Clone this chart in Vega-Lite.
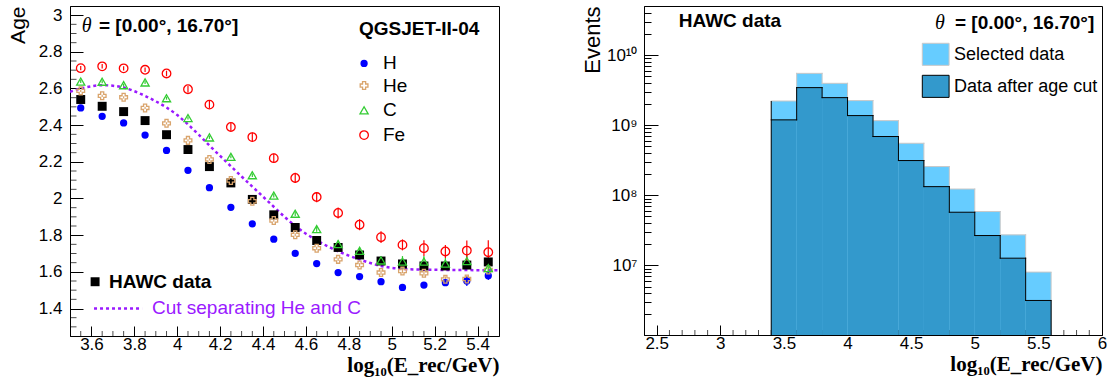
{
  "$schema": "https://vega.github.io/schema/vega-lite/v6.json",
  "background": "white",
  "padding": {"left": 6, "top": 3, "right": 5, "bottom": 5},
  "spacing": 80,
  "config": {
    "view": {"stroke": "black", "strokeWidth": 1},
    "axis": {"domainColor": "black", "domainWidth": 1, "tickColor": "black", "tickWidth": 1, "labelColor": "black", "labelFont": "Liberation Sans", "labelFontSize": 17, "titleColor": "black", "titleFont": "Liberation Sans", "titleFontWeight": "normal", "grid": false, "labelOverlap": false, "labelFlush": false, "labelBound": false},
    "text": {"font": "Liberation Sans", "color": "black"},
    "tick": {"thickness": 1, "color": "black"}
  },
  "datasets": {
    "age": [
      {"x":3.55,"s":"H","age":2.494,"err":0.005},{"x":3.65,"s":"H","age":2.448,"err":0.005},{"x":3.75,"s":"H","age":2.412,"err":0.005},{"x":3.85,"s":"H","age":2.346,"err":0.005},{"x":3.95,"s":"H","age":2.262,"err":0.005},{"x":4.05,"s":"H","age":2.154,"err":0.005},{"x":4.15,"s":"H","age":2.059,"err":0.005},{"x":4.25,"s":"H","age":1.952,"err":0.005},{"x":4.35,"s":"H","age":1.862,"err":0.005},{"x":4.45,"s":"H","age":1.778,"err":0.006},{"x":4.55,"s":"H","age":1.701,"err":0.006},{"x":4.65,"s":"H","age":1.645,"err":0.007},{"x":4.75,"s":"H","age":1.596,"err":0.008},{"x":4.85,"s":"H","age":1.574,"err":0.008},{"x":4.95,"s":"H","age":1.546,"err":0.01},{"x":5.05,"s":"H","age":1.515,"err":0.012},{"x":5.15,"s":"H","age":1.528,"err":0.015},{"x":5.25,"s":"H","age":1.541,"err":0.018},{"x":5.35,"s":"H","age":1.55,"err":0.027},{"x":5.45,"s":"H","age":1.579,"err":0.023},
      {"x":3.55,"s":"He","age":2.587,"err":0.006},{"x":3.65,"s":"He","age":2.56,"err":0.006},{"x":3.75,"s":"He","age":2.552,"err":0.006},{"x":3.85,"s":"He","age":2.494,"err":0.006},{"x":3.95,"s":"He","age":2.41,"err":0.006},{"x":4.05,"s":"He","age":2.317,"err":0.006},{"x":4.15,"s":"He","age":2.213,"err":0.006},{"x":4.25,"s":"He","age":2.098,"err":0.006},{"x":4.35,"s":"He","age":1.985,"err":0.007},{"x":4.45,"s":"He","age":1.88,"err":0.007},{"x":4.55,"s":"He","age":1.802,"err":0.008},{"x":4.65,"s":"He","age":1.729,"err":0.008},{"x":4.75,"s":"He","age":1.668,"err":0.009},{"x":4.85,"s":"He","age":1.637,"err":0.01},{"x":4.95,"s":"He","age":1.596,"err":0.012},{"x":5.05,"s":"He","age":1.604,"err":0.012},{"x":5.15,"s":"He","age":1.592,"err":0.014},{"x":5.25,"s":"He","age":1.559,"err":0.015},{"x":5.35,"s":"He","age":1.561,"err":0.02},{"x":5.45,"s":"He","age":1.61,"err":0.02},
      {"x":3.55,"s":"C","age":2.638,"err":0.008},{"x":3.65,"s":"C","age":2.637,"err":0.008},{"x":3.75,"s":"C","age":2.618,"err":0.008},{"x":3.85,"s":"C","age":2.633,"err":0.008},{"x":3.95,"s":"C","age":2.547,"err":0.008},{"x":4.05,"s":"C","age":2.439,"err":0.008},{"x":4.15,"s":"C","age":2.333,"err":0.008},{"x":4.25,"s":"C","age":2.227,"err":0.008},{"x":4.35,"s":"C","age":2.127,"err":0.01},{"x":4.45,"s":"C","age":2.016,"err":0.01},{"x":4.55,"s":"C","age":1.917,"err":0.012},{"x":4.65,"s":"C","age":1.833,"err":0.015},{"x":4.75,"s":"C","age":1.751,"err":0.02},{"x":4.85,"s":"C","age":1.714,"err":0.022},{"x":4.95,"s":"C","age":1.662,"err":0.025},{"x":5.05,"s":"C","age":1.656,"err":0.03},{"x":5.15,"s":"C","age":1.656,"err":0.03},{"x":5.25,"s":"C","age":1.645,"err":0.03},{"x":5.35,"s":"C","age":1.659,"err":0.04},{"x":5.45,"s":"C","age":1.62,"err":0.04},
      {"x":3.55,"s":"Fe","age":2.711,"err":0.012},{"x":3.65,"s":"Fe","age":2.721,"err":0.012},{"x":3.75,"s":"Fe","age":2.71,"err":0.012},{"x":3.85,"s":"Fe","age":2.702,"err":0.012},{"x":3.95,"s":"Fe","age":2.682,"err":0.015},{"x":4.05,"s":"Fe","age":2.596,"err":0.018},{"x":4.15,"s":"Fe","age":2.512,"err":0.02},{"x":4.25,"s":"Fe","age":2.39,"err":0.022},{"x":4.35,"s":"Fe","age":2.335,"err":0.025},{"x":4.45,"s":"Fe","age":2.22,"err":0.025},{"x":4.55,"s":"Fe","age":2.112,"err":0.028},{"x":4.65,"s":"Fe","age":2.008,"err":0.028},{"x":4.75,"s":"Fe","age":1.921,"err":0.03},{"x":4.85,"s":"Fe","age":1.857,"err":0.03},{"x":4.95,"s":"Fe","age":1.789,"err":0.032},{"x":5.05,"s":"Fe","age":1.747,"err":0.03},{"x":5.15,"s":"Fe","age":1.729,"err":0.043},{"x":5.25,"s":"Fe","age":1.711,"err":0.035},{"x":5.35,"s":"Fe","age":1.716,"err":0.055},{"x":5.45,"s":"Fe","age":1.707,"err":0.065},
      {"x":3.55,"s":"HAWC","age":2.54,"err":0},{"x":3.65,"s":"HAWC","age":2.503,"err":0},{"x":3.75,"s":"HAWC","age":2.474,"err":0},{"x":3.85,"s":"HAWC","age":2.425,"err":0},{"x":3.95,"s":"HAWC","age":2.348,"err":0},{"x":4.05,"s":"HAWC","age":2.267,"err":0},{"x":4.15,"s":"HAWC","age":2.174,"err":0},{"x":4.25,"s":"HAWC","age":2.085,"err":0},{"x":4.35,"s":"HAWC","age":1.995,"err":0},{"x":4.45,"s":"HAWC","age":1.911,"err":0},{"x":4.55,"s":"HAWC","age":1.842,"err":0},{"x":4.65,"s":"HAWC","age":1.771,"err":0},{"x":4.75,"s":"HAWC","age":1.733,"err":0},{"x":4.85,"s":"HAWC","age":1.692,"err":0},{"x":4.95,"s":"HAWC","age":1.659,"err":0},{"x":5.05,"s":"HAWC","age":1.643,"err":0},{"x":5.15,"s":"HAWC","age":1.632,"err":0},{"x":5.25,"s":"HAWC","age":1.632,"err":0},{"x":5.35,"s":"HAWC","age":1.637,"err":0},{"x":5.45,"s":"HAWC","age":1.654,"err":0}
    ],
    "cut": [
      {"x":3.5,"age":2.582},{"x":3.55,"age":2.6},{"x":3.6,"age":2.612},{"x":3.65,"age":2.618},{"x":3.7,"age":2.615},{"x":3.75,"age":2.605},{"x":3.8,"age":2.585},{"x":3.85,"age":2.56},{"x":3.9,"age":2.53},{"x":3.95,"age":2.496},{"x":4.0,"age":2.455},{"x":4.05,"age":2.404},{"x":4.1,"age":2.348},{"x":4.15,"age":2.289},{"x":4.2,"age":2.232},{"x":4.25,"age":2.176},{"x":4.3,"age":2.12},{"x":4.35,"age":2.065},{"x":4.4,"age":2.01},{"x":4.45,"age":1.955},{"x":4.5,"age":1.9},{"x":4.55,"age":1.85},{"x":4.6,"age":1.808},{"x":4.65,"age":1.772},{"x":4.7,"age":1.74},{"x":4.75,"age":1.712},{"x":4.8,"age":1.688},{"x":4.85,"age":1.668},{"x":4.9,"age":1.648},{"x":4.95,"age":1.632},{"x":5.0,"age":1.622},{"x":5.05,"age":1.616},{"x":5.1,"age":1.613},{"x":5.2,"age":1.611},{"x":5.3,"age":1.61},{"x":5.4,"age":1.609},{"x":5.5,"age":1.608}
    ],
    "hist": [
      {"x0":3.4,"x1":3.6,"sel":2.21e9,"cut":1.19e9},
      {"x0":3.6,"x1":3.8,"sel":5.48e9,"cut":3.43e9},
      {"x0":3.8,"x1":4.0,"sel":3.95e9,"cut":2.47e9},
      {"x0":4.0,"x1":4.2,"sel":2.24e9,"cut":1.37e9},
      {"x0":4.2,"x1":4.4,"sel":1.16e9,"cut":6.89e8},
      {"x0":4.4,"x1":4.6,"sel":5.52e8,"cut":3.13e8},
      {"x0":4.6,"x1":4.8,"sel":2.57e8,"cut":1.33e8},
      {"x0":4.8,"x1":5.0,"sel":1.23e8,"cut":5.74e7},
      {"x0":5.0,"x1":5.2,"sel":5.87e7,"cut":2.67e7},
      {"x0":5.2,"x1":5.4,"sel":2.73e7,"cut":1.27e7},
      {"x0":5.4,"x1":5.6,"sel":8.04e6,"cut":3.17e6}
    ]
  },
  "hconcat": [
    {
      "width": 429,
      "height": 330,
      "layer": [
        {
          "data": {"name": "cut"},
          "mark": {"type": "line", "color": "#9a1aff", "strokeWidth": 2.5, "strokeDash": [3, 3], "interpolate": "monotone", "clip": true},
          "encoding": {
            "x": {"field": "x", "type": "quantitative", "scale": {"domain": [3.5, 5.5], "nice": false, "zero": false},
              "axis": {"values": [3.6,3.8,4,4.2,4.4,4.6,4.8,5,5.2,5.4],
                "format": "~g",
                "labelOverlap": false,
                "tickSize": -10,
                "labelPadding": 10,
                "title": "log₁₀(E_rec/GeV)", "titleAnchor": "end", "titleFont": "Liberation Serif", "titleFontWeight": "bold", "titleFontSize": 21, "titlePadding": 2}},
            "y": {"field": "age", "type": "quantitative", "scale": {"domain": [1.25, 3.05], "nice": false, "zero": false},
              "axis": {"values": [1.4,1.6,1.8,2,2.2,2.4,2.6,2.8,3],
                "format": "~g",
                "labelOverlap": false,
                "tickSize": -13,
                "labelPadding": 21,
                "title": "Age", "titleAnchor": "end", "titleFontSize": 21, "titlePadding": 10}}
          }
        },
        {
          "data": {"values": [{"v":3.55},{"v":3.65},{"v":3.7},{"v":3.75},{"v":3.85},{"v":3.9},{"v":3.95},{"v":4.05},{"v":4.1},{"v":4.15},{"v":4.25},{"v":4.3},{"v":4.35},{"v":4.45},{"v":4.5},{"v":4.55},{"v":4.65},{"v":4.7},{"v":4.75},{"v":4.85},{"v":4.9},{"v":4.95},{"v":5.05},{"v":5.1},{"v":5.15},{"v":5.25},{"v":5.3},{"v":5.35},{"v":5.45}]},
          "mark": {"type": "tick", "orient": "vertical", "size": 10, "thickness": 1, "color": "black", "clip": true},
          "encoding": {
            "x": {"field": "v", "type": "quantitative", "title": "log₁₀(E_rec/GeV)"},
            "y": {"datum": 1.25, "type": "quantitative", "title": "Age"}
          }
        },
        {
          "data": {"values": [{"v":1.3},{"v":1.35},{"v":1.45},{"v":1.5},{"v":1.55},{"v":1.65},{"v":1.7},{"v":1.75},{"v":1.85},{"v":1.9},{"v":1.95},{"v":2.05},{"v":2.1},{"v":2.15},{"v":2.25},{"v":2.3},{"v":2.35},{"v":2.45},{"v":2.5},{"v":2.55},{"v":2.65},{"v":2.7},{"v":2.75},{"v":2.85},{"v":2.9},{"v":2.95}]},
          "mark": {"type": "tick", "orient": "horizontal", "size": 13, "thickness": 1, "color": "black", "clip": true},
          "encoding": {
            "y": {"field": "v", "type": "quantitative", "title": "Age"},
            "x": {"datum": 3.5, "type": "quantitative", "title": "log₁₀(E_rec/GeV)"}
          }
        },
        {
          "data": {"name": "age"},
          "transform": [{"filter": "datum.err > 0"}],
          "mark": {"type": "errorbar", "ticks": false, "thickness": 1.2, "clip": true},
          "encoding": {
            "x": {"field": "x", "type": "quantitative", "title": "log₁₀(E_rec/GeV)"},
            "y": {"field": "age", "type": "quantitative", "title": "Age"},
            "yError": {"field": "err"},
            "color": {"field": "s", "type": "nominal", "legend": null, "scale": {"domain": ["H","He","C","Fe","HAWC"], "range": ["#0000ff","#d9a46c","#33cc33","#ff0000","#000000"]}}
          }
        },
        {
          "data": {"name": "age"},
          "transform": [{"filter": "datum.s === 'H' || datum.s === 'HAWC'"}],
          "mark": {"type": "point", "filled": true, "opacity": 1, "clip": true},
          "encoding": {
            "x": {"field": "x", "type": "quantitative"},
            "y": {"field": "age", "type": "quantitative"},
            "color": {"field": "s", "type": "nominal", "legend": null, "scale": {"domain": ["H","He","C","Fe","HAWC"], "range": ["#0000ff","#d9a46c","#33cc33","#ff0000","#000000"]}},
            "shape": {"field": "s", "type": "nominal", "legend": null, "scale": {"domain": ["H","He","C","Fe","HAWC"], "range": ["circle","cross","triangle-up","circle","square"]}},
            "size": {"field": "s", "type": "nominal", "legend": null, "scale": {"domain": ["H","He","C","Fe","HAWC"], "range": [53,80,75,64,40]}}
          }
        },
        {
          "data": {"name": "age"},
          "transform": [{"filter": "datum.s === 'He' || datum.s === 'C' || datum.s === 'Fe'"}],
          "mark": {"type": "point", "filled": false, "fillOpacity": 0, "strokeWidth": 1.3, "opacity": 1, "clip": true},
          "encoding": {
            "x": {"field": "x", "type": "quantitative"},
            "y": {"field": "age", "type": "quantitative"},
            "color": {"field": "s", "type": "nominal", "legend": null, "scale": {"domain": ["H","He","C","Fe","HAWC"], "range": ["#0000ff","#d9a46c","#33cc33","#ff0000","#000000"]}},
            "shape": {"field": "s", "type": "nominal", "legend": null, "scale": {"domain": ["H","He","C","Fe","HAWC"], "range": ["circle","cross","triangle-up","circle","square"]}},
            "size": {"field": "s", "type": "nominal", "legend": null, "scale": {"domain": ["H","He","C","Fe","HAWC"], "range": [53,80,75,64,40]}}
          }
        },
        {
          "data": {"values": [{"x": 4.871, "age": 2.737, "s": "H"}, {"x": 3.617, "age": 1.546, "s": "HAWC"}]},
          "mark": {"type": "point", "filled": true, "opacity": 1},
          "encoding": {
            "x": {"field": "x", "type": "quantitative"},
            "y": {"field": "age", "type": "quantitative"},
            "color": {"field": "s", "type": "nominal", "legend": null, "scale": {"domain": ["H","He","C","Fe","HAWC"], "range": ["#0000ff","#d9a46c","#33cc33","#ff0000","#000000"]}},
            "shape": {"field": "s", "type": "nominal", "legend": null, "scale": {"domain": ["H","He","C","Fe","HAWC"], "range": ["circle","cross","triangle-up","circle","square"]}},
            "size": {"field": "s", "type": "nominal", "legend": null, "scale": {"domain": ["H","He","C","Fe","HAWC"], "range": [53,80,75,64,40]}}
          }
        },
        {
          "data": {"values": [{"x": 4.871, "age": 2.616, "s": "He"}, {"x": 4.871, "age": 2.481, "s": "C"}, {"x": 4.871, "age": 2.346, "s": "Fe"}]},
          "mark": {"type": "point", "filled": false, "fillOpacity": 0, "strokeWidth": 1.3, "opacity": 1},
          "encoding": {
            "x": {"field": "x", "type": "quantitative"},
            "y": {"field": "age", "type": "quantitative"},
            "color": {"field": "s", "type": "nominal", "legend": null, "scale": {"domain": ["H","He","C","Fe","HAWC"], "range": ["#0000ff","#d9a46c","#33cc33","#ff0000","#000000"]}},
            "shape": {"field": "s", "type": "nominal", "legend": null, "scale": {"domain": ["H","He","C","Fe","HAWC"], "range": ["circle","cross","triangle-up","circle","square"]}},
            "size": {"field": "s", "type": "nominal", "legend": null, "scale": {"domain": ["H","He","C","Fe","HAWC"], "range": [53,80,75,64,40]}}
          }
        },
        {
          "data": {"values": [{"x": 4.959, "age": 2.737, "t": "H"}, {"x": 4.959, "age": 2.616, "t": "He"}, {"x": 4.959, "age": 2.481, "t": "C"}, {"x": 4.959, "age": 2.346, "t": "Fe"}]},
          "mark": {"type": "text", "align": "left", "baseline": "middle", "fontSize": 19},
          "encoding": {
            "x": {"field": "x", "type": "quantitative"},
            "y": {"field": "age", "type": "quantitative"},
            "text": {"field": "t"}
          }
        },
        {
          "data": {"values": [{"x": 3.635, "age": 2.94, "t": "= [0.00°, 16.70°]"}, {"x": 4.847, "age": 2.925, "t": "QGSJET-II-04"}, {"x": 3.682, "age": 1.546, "t": "HAWC data"}]},
          "mark": {"type": "text", "align": "left", "baseline": "middle", "fontSize": 19, "fontWeight": "bold"},
          "encoding": {
            "x": {"field": "x", "type": "quantitative"},
            "y": {"field": "age", "type": "quantitative"},
            "text": {"field": "t"}
          }
        },
        {
          "data": {"values": [{"x": 3.5545, "age": 2.94, "t": "θ"}]},
          "mark": {"type": "text", "align": "left", "baseline": "middle", "fontSize": 20, "fontStyle": "italic", "font": "Liberation Serif"},
          "encoding": {
            "x": {"field": "x", "type": "quantitative"},
            "y": {"field": "age", "type": "quantitative"},
            "text": {"field": "t"}
          }
        },
        {
          "data": {"values": [{"x": 3.612, "x2": 3.836, "age": 1.4}]},
          "mark": {"type": "rule", "color": "#9a1aff", "strokeWidth": 2.5, "strokeDash": [3, 3]},
          "encoding": {
            "x": {"field": "x", "type": "quantitative"},
            "x2": {"field": "x2"},
            "y": {"field": "age", "type": "quantitative"}
          }
        },
        {
          "data": {"values": [{"x": 3.882, "age": 1.405, "t": "Cut separating He and C"}]},
          "mark": {"type": "text", "align": "left", "baseline": "middle", "fontSize": 19, "color": "#9a1aff"},
          "encoding": {
            "x": {"field": "x", "type": "quantitative"},
            "y": {"field": "age", "type": "quantitative"},
            "text": {"field": "t"}
          }
        }
      ]
    },
    {
      "width": 458,
      "height": 329,
      "layer": [
        {
          "data": {"name": "hist"},
          "mark": {"type": "bar", "color": "#66ccff", "clip": true},
          "encoding": {
            "x": {"field": "x0", "type": "quantitative", "scale": {"domain": [2.4, 6], "nice": false, "zero": false},
              "axis": {"values": [2.5,3,3.5,4,4.5,5,5.5,6],
                "format": "~g",
                "labelOverlap": false,
                "tickSize": -10,
                "labelPadding": 10,
                "title": "log₁₀(E_rec/GeV)", "titleAnchor": "end", "titleFont": "Liberation Serif", "titleFontWeight": "bold", "titleFontSize": 21, "titlePadding": 2}},
            "x2": {"field": "x1"},
            "y": {"field": "sel", "type": "quantitative", "scale": {"type": "log", "domain": [1.02e6, 5e10], "nice": false},
              "axis": {"values": [2e6,3e6,4e6,5e6,6e6,7e6,8e6,9e6,1e7,2e7,3e7,4e7,5e7,6e7,7e7,8e7,9e7,1e8,2e8,3e8,4e8,5e8,6e8,7e8,8e8,9e8,1e9,2e9,3e9,4e9,5e9,6e9,7e9,8e9,9e9,1e10,2e10,3e10,4e10],
                "labelExpr": "abs(log(datum.value)/LN10 - round(log(datum.value)/LN10)) < 1e-6 ? (round(log(datum.value)/LN10) == 10 ? '10¹⁰' : round(log(datum.value)/LN10) == 9 ? '10⁹' : round(log(datum.value)/LN10) == 8 ? '10⁸' : '10⁷') : ''",
                "labelOverlap": false,
                "tickSize": -14,
                "tickDash": {"condition": {"test": "abs(log(datum.value)/LN10 - round(log(datum.value)/LN10)) < 1e-6", "value": [20, 0]}, "value": [7, 30]},
                "labelPadding": 21,
                "title": "Events", "titleAnchor": "end", "titleFontSize": 22, "titlePadding": 2}},
            "y2": {"datum": 1.02e6}
          }
        },
        {
          "data": {"values": [{"v":2.6},{"v":2.7},{"v":2.8},{"v":2.9},{"v":3.1},{"v":3.2},{"v":3.3},{"v":3.4},{"v":3.6},{"v":3.7},{"v":3.8},{"v":3.9},{"v":4.1},{"v":4.2},{"v":4.3},{"v":4.4},{"v":4.6},{"v":4.7},{"v":4.8},{"v":4.9},{"v":5.1},{"v":5.2},{"v":5.3},{"v":5.4},{"v":5.6},{"v":5.7},{"v":5.8},{"v":5.9}]},
          "mark": {"type": "tick", "orient": "vertical", "size": 10, "thickness": 1, "color": "black", "clip": true},
          "encoding": {
            "x": {"field": "v", "type": "quantitative"},
            "y": {"datum": 1.02e6, "type": "quantitative"}
          }
        },
        {
          "data": {"name": "hist"},
          "mark": {"type": "rule", "color": "#c8c8c8", "strokeWidth": 1, "strokeCap": "square", "clip": true},
          "encoding": {
            "x": {"field": "x0", "type": "quantitative"},
            "x2": {"field": "x1"},
            "y": {"field": "sel", "type": "quantitative"}
          }
        },
        {
          "data": {"name": "hist"},
          "transform": [{"window": [{"op": "lag", "field": "sel", "as": "selPrev"}], "sort": [{"field": "x0"}]}, {"filter": "datum.selPrev != null"}],
          "mark": {"type": "rule", "color": "#c8c8c8", "strokeWidth": 1, "strokeCap": "square", "clip": true},
          "encoding": {
            "x": {"field": "x0", "type": "quantitative"},
            "y": {"field": "selPrev", "type": "quantitative"},
            "y2": {"field": "sel"}
          }
        },
        {
          "data": {"name": "hist"},
          "transform": [{"filter": "datum.x1 > 5.55"}],
          "mark": {"type": "rule", "color": "#c8c8c8", "strokeWidth": 1, "clip": true},
          "encoding": {
            "x": {"field": "x1", "type": "quantitative"},
            "y": {"field": "sel", "type": "quantitative"},
            "y2": {"datum": 1.02e6}
          }
        },
        {
          "data": {"name": "hist"},
          "mark": {"type": "bar", "color": "#3399cc", "clip": true},
          "encoding": {
            "x": {"field": "x0", "type": "quantitative"},
            "x2": {"field": "x1"},
            "y": {"field": "cut", "type": "quantitative"},
            "y2": {"datum": 1.02e6}
          }
        },
        {
          "data": {"name": "hist"},
          "mark": {"type": "rule", "color": "black", "strokeWidth": 1, "strokeCap": "square", "clip": true},
          "encoding": {
            "x": {"field": "x0", "type": "quantitative"},
            "x2": {"field": "x1"},
            "y": {"field": "cut", "type": "quantitative"}
          }
        },
        {
          "data": {"name": "hist"},
          "transform": [{"window": [{"op": "lag", "field": "cut", "as": "cutPrev"}], "sort": [{"field": "x0"}]}, {"filter": "datum.cutPrev != null"}],
          "mark": {"type": "rule", "color": "black", "strokeWidth": 1, "strokeCap": "square", "clip": true},
          "encoding": {
            "x": {"field": "x0", "type": "quantitative"},
            "y": {"field": "cutPrev", "type": "quantitative"},
            "y2": {"field": "cut"}
          }
        },
        {
          "data": {"name": "hist"},
          "transform": [{"filter": "datum.x0 < 3.45"}],
          "mark": {"type": "rule", "color": "black", "strokeWidth": 1, "clip": true},
          "encoding": {
            "x": {"field": "x0", "type": "quantitative"},
            "y": {"field": "sel", "type": "quantitative"},
            "y2": {"datum": 1.02e6}
          }
        },
        {
          "data": {"name": "hist"},
          "transform": [{"filter": "datum.x1 > 5.55"}],
          "mark": {"type": "rule", "color": "black", "strokeWidth": 1, "clip": true},
          "encoding": {
            "x": {"field": "x1", "type": "quantitative"},
            "y": {"field": "cut", "type": "quantitative"},
            "y2": {"datum": 1.02e6}
          }
        },
        {
          "data": {"values": [{"a": 4.5875, "b": 4.798, "lo": 7.13e9, "hi": 1.47e10}]},
          "mark": {"type": "rect", "fill": "#66ccff", "stroke": "#c8c8c8", "strokeWidth": 1},
          "encoding": {
            "x": {"field": "a", "type": "quantitative"},
            "x2": {"field": "b"},
            "y": {"field": "lo", "type": "quantitative"},
            "y2": {"field": "hi"}
          }
        },
        {
          "data": {"values": [{"a": 4.5875, "b": 4.798, "lo": 2.49e9, "hi": 5.14e9}]},
          "mark": {"type": "rect", "fill": "#3399cc", "stroke": "black", "strokeWidth": 1},
          "encoding": {
            "x": {"field": "a", "type": "quantitative"},
            "x2": {"field": "b"},
            "y": {"field": "lo", "type": "quantitative"},
            "y2": {"field": "hi"}
          }
        },
        {
          "data": {"values": [{"x": 4.8375, "v": 9.9e9, "t": "Selected data"}, {"x": 4.8375, "v": 3.47e9, "t": "Data after age cut"}]},
          "mark": {"type": "text", "align": "left", "baseline": "middle", "fontSize": 18},
          "encoding": {
            "x": {"field": "x", "type": "quantitative"},
            "y": {"field": "v", "type": "quantitative"},
            "text": {"field": "t"}
          }
        },
        {
          "data": {"values": [{"x": 2.673, "v": 3.02e10, "t": "HAWC data"}]},
          "mark": {"type": "text", "align": "left", "baseline": "middle", "fontSize": 19, "fontWeight": "bold"},
          "encoding": {
            "x": {"field": "x", "type": "quantitative"},
            "y": {"field": "v", "type": "quantitative"},
            "text": {"field": "t"}
          }
        },
        {
          "data": {"values": [{"x": 5.939, "v": 2.83e10, "t": "= [0.00°, 16.70°]"}]},
          "mark": {"type": "text", "align": "right", "baseline": "middle", "fontSize": 19, "fontWeight": "bold"},
          "encoding": {
            "x": {"field": "x", "type": "quantitative"},
            "y": {"field": "v", "type": "quantitative"},
            "text": {"field": "t"}
          }
        },
        {
          "data": {"values": [{"x": 4.687, "v": 2.83e10, "t": "θ"}]},
          "mark": {"type": "text", "align": "left", "baseline": "middle", "fontSize": 20, "fontStyle": "italic", "font": "Liberation Serif"},
          "encoding": {
            "x": {"field": "x", "type": "quantitative"},
            "y": {"field": "v", "type": "quantitative"},
            "text": {"field": "t"}
          }
        }
      ]
    }
  ]
}
